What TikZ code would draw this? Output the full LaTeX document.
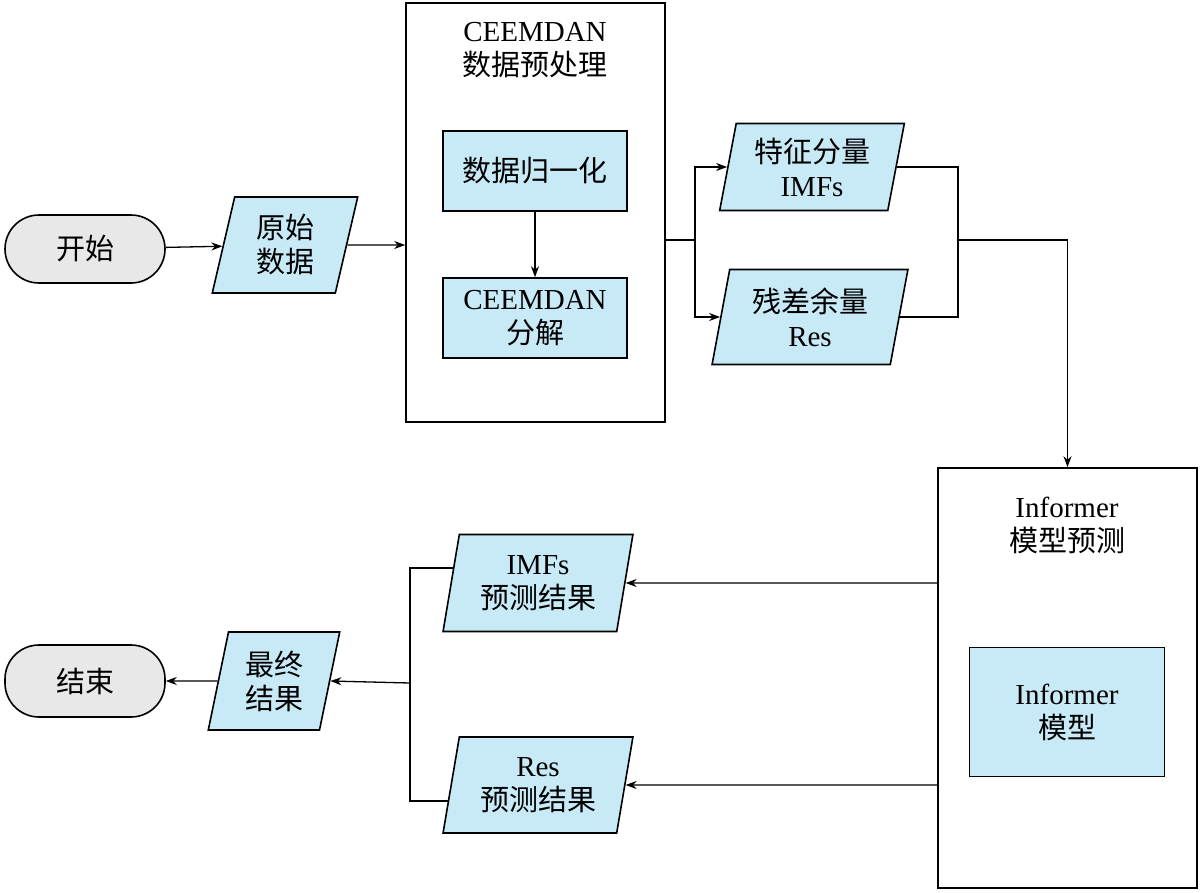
\documentclass[tikz,border=0pt]{standalone}
\usepackage{fontspec}
\setmainfont{Liberation Serif}
\newfontfamily\cjk{Noto Sans CJK SC}
\usetikzlibrary{shapes.geometric,arrows.meta}
\definecolor{paleblue}{RGB}{200,234,247}
\definecolor{palegray}{RGB}{232,232,232}
\begin{document}
\begin{tikzpicture}
            [x=1pt,y=-1pt,
             term/.style={rounded corners=34pt,draw,line width=1.6pt,fill=palegray,minimum width=160pt,minimum height=68pt,font=\fontsize{29}{33}\selectfont\cjk},
             data/.style={trapezium,trapezium left angle=78,trapezium right angle=102,trapezium stretches=true,draw,line width=1.6pt,fill=paleblue,align=center,inner sep=1pt,font=\fontsize{29}{34}\selectfont},
             proc/.style={draw,line width=1.6pt,fill=paleblue,minimum width=184pt,minimum height=80pt,align=center,font=\fontsize{29}{34}\selectfont},
             frame/.style={draw,line width=1.6pt},
             flow/.style={line width=1.3pt,-{Stealth[length=11pt,width=8pt]}},
             link/.style={line width=1.3pt}]
            \useasboundingbox (0,0) rectangle (1200,892);
            \node[term] (start) at (85,249){开始};
            \node[data,minimum width=146pt,minimum height=96pt] (raw) at (285,245){{\cjk 原始}\\{\cjk 数据}};
            \node[frame,minimum width=259pt,minimum height=419pt] (prep) at (535.5,212.5){};
            \node[align=center,font=\fontsize{29}{34}\selectfont] (preptitle) at (535,50){CEEMDAN\\{\cjk 数据预处理}};
            \node[proc] (norm) at (535,171){\cjk 数据归一化};
            \node[proc] (dec) at (535,318){CEEMDAN\\{\cjk 分解}};
            \node[data,minimum width=185pt,minimum height=87pt] (imf) at (812,167){{\cjk 特征分量}\\IMFs};
            \node[data,minimum width=196pt,minimum height=95pt] (res) at (810,317){{\cjk 残差余量}\\Res};
            \node[frame,minimum width=259pt,minimum height=420pt] (inf) at (1067.5,678){};
            \node[align=center,font=\fontsize{29}{34}\selectfont] (inftitle) at (1067,525){Informer\\{\cjk 模型预测}};
            \node[proc,minimum width=195pt,minimum height=129pt] (model) at (1067,712){Informer\\{\cjk 模型}};
            \node[data,minimum width=190pt,minimum height=97pt] (imfp) at (538,583){IMFs\\{\cjk 预测结果}};
            \node[data,minimum width=190pt,minimum height=96pt] (resp) at (538,785){Res\\{\cjk 预测结果}};
            \node[data,minimum width=132pt,minimum height=98pt] (final) at (274,681){{\cjk 最终}\\{\cjk 结果}};
            \node[term,minimum height=72pt] (end) at (85,681){结束};
            \coordinate (split) at (695,240);
            \coordinate (merge) at (958,240);
            \coordinate (join) at (410,683);
            \draw[flow] (start) -- (raw);
            \draw[flow] (raw) -- (raw -| prep.west);
            \draw[flow] (norm) -- (dec);
            \draw[link] (prep.east |- split) -- (split);
            \draw[flow] (split) |- (imf.west);
            \draw[flow] (split) |- (res.west);
            \draw[link] (imf.east) -| (merge);
            \draw[link] (res.east) -| (merge);
            \draw[flow] (merge) -| (inf.north);
            \draw[flow] (inf.west |- imfp) -- (imfp.east);
            \draw[flow] (inf.west |- resp) -- (resp.east);
            \draw[link] (imfp.170) -| (join);
            \draw[link] (resp.190) -| (join);
            \draw[flow] (join) -- (final.east);
            \draw[flow] (final) -- (end);
        \end{tikzpicture}
\end{document}
